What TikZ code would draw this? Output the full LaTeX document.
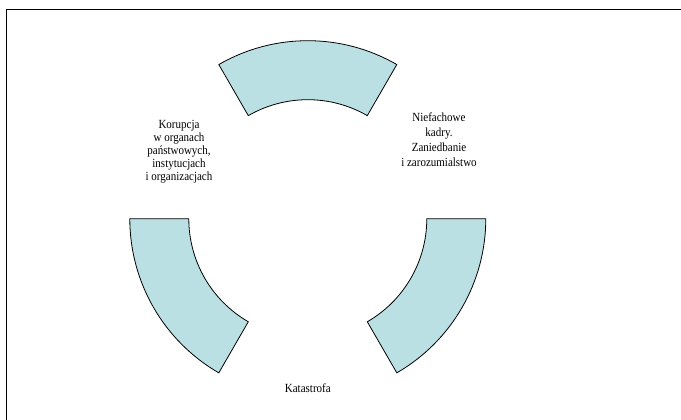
\documentclass[tikz,border=0pt]{standalone}
\usepackage{fontspec}
\setmainfont{Liberation Serif}
\definecolor{segfill}{HTML}{BBE0E3}
\begin{document}
\begin{tikzpicture}[x=1pt,y=1pt,
  seg/.style={draw=black,fill=segfill,line width=0.8pt,line join=miter},
  lbl/.style={align=center,inner sep=0pt,transform shape,yscale=1.13,font=\fontsize{11}{11.5}\selectfont},
  frame/.style={draw=black,line width=1.2pt}]
\useasboundingbox (0,0) rectangle (681,420);
\coordinate (c) at (307.8,201.3);
\coordinate (tl) at (6.3,410.7);
\coordinate (tr) at (681,410.7);
\coordinate (bl) at (6.3,0);
\draw[frame] (tr) -- (tl) -- (bl);
% top sector
\path[seg] ([shift={(60:178)}]c) arc[start angle=60,end angle=120,radius=178]
  -- ([shift={(120:119)}]c) arc[start angle=120,end angle=60,radius=119] -- cycle;
% left sector
\path[seg] ([shift={(180:178)}]c) arc[start angle=180,end angle=240,radius=178]
  -- ([shift={(240:119)}]c) arc[start angle=240,end angle=180,radius=119] -- cycle;
% right sector
\path[seg] ([shift={(300:178)}]c) arc[start angle=300,end angle=360,radius=178]
  -- ([shift={(0:119)}]c) arc[start angle=360,end angle=300,radius=119] -- cycle;
\node[lbl] (kor) at (179,268) {Korupcja\\w organach\\państwowych,\\instytucjach\\i organizacjach};
\node[lbl,font=\fontsize{11}{13.3}\selectfont] (nie) at (439,280) {Niefachowe\\kadry.\\Zaniedbanie\\i zarozumialstwo};
\node[lbl] (kat) at (307.8,32) {Katastrofa};
\end{tikzpicture}
\end{document}
